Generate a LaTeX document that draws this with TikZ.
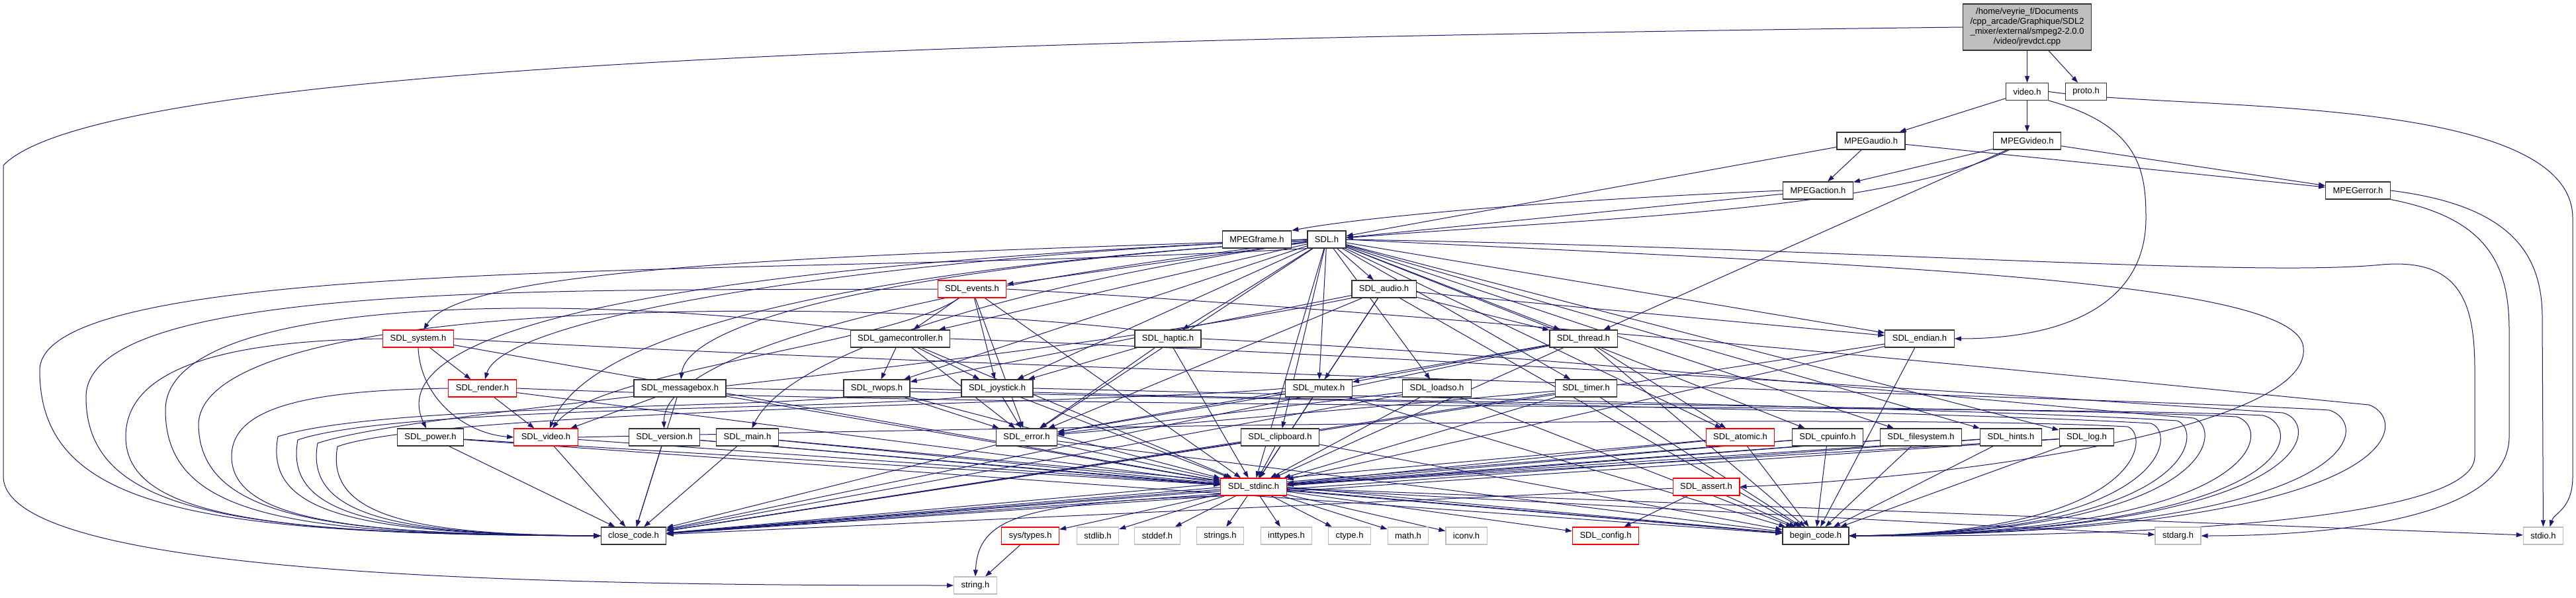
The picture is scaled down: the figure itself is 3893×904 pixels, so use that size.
\documentclass[tikz,border=0pt]{standalone}
\usepackage{fontspec}
\setmainfont{Liberation Sans}
\usepackage{xcolor}
\definecolor{cEdge}{HTML}{191970}
\definecolor{cRoot}{HTML}{BFBFBF}
\definecolor{cTrunc}{HTML}{FF0000}
\definecolor{cExt}{HTML}{BFBFBF}
\definecolor{cBorder}{HTML}{333333}
\usetikzlibrary{arrows.meta,backgrounds}
\tikzset{
  node-hdr/.style={draw=cBorder,line width=1.2pt,fill=white,inner xsep=11pt,
    inner ysep=0pt,minimum height=26pt,font=\fontsize{13}{15}\selectfont},
  node-trunc/.style={node-hdr,draw=cTrunc},
  node-ext/.style={node-hdr,draw=cExt},
  node-root/.style={node-hdr,fill=cRoot,align=center,minimum height=70pt},
  arrow/.style={-{Triangle[length=10pt,width=7pt]},line width=1pt,draw=cEdge},
}

\begin{document}
\begin{tikzpicture}[x=1pt,y=-1pt]
  \useasboundingbox (0,0) rectangle (3893,904);
  % file and smpeg headers
  \node[node-root] (root) at (3063.5,41) {/home/veyrie\_f/Documents\\/cpp\_arcade/Graphique/SDL2\\\_mixer/external/smpeg2-2.0.0\\/video/jrevdct.cpp};
  \node[node-hdr] (video) at (3063.5,138.5) {video.h};
  \node[node-hdr] (proto) at (3152.5,138.5) {proto.h};
  \node[node-hdr] (mpegaudio) at (2827.5,213) {MPEGaudio.h};
  \node[node-hdr] (mpegvideo) at (3063.5,213) {MPEGvideo.h};
  \node[node-hdr] (mpegaction) at (2747.5,288) {MPEGaction.h};
  \node[node-hdr] (mpegerror) at (3563.5,288) {MPEGerror.h};
  \node[node-hdr] (mpegframe) at (1899.5,362) {MPEGframe.h};
  % SDL headers
  \node[node-hdr] (sdl) at (2005,362) {SDL.h};
  \node[node-trunc] (events) at (1469,437) {SDL\_events.h};
  \node[node-hdr] (audio) at (2091.5,437) {SDL\_audio.h};
  \node[node-trunc] (system) at (632,512) {SDL\_system.h};
  \node[node-hdr] (gamectrl) at (1360.5,512) {SDL\_gamecontroller.h};
  \node[node-hdr] (haptic) at (1765,512) {SDL\_haptic.h};
  \node[node-hdr] (thread) at (2393,512) {SDL\_thread.h};
  \node[node-hdr] (endian) at (2901,512) {SDL\_endian.h};
  \node[node-trunc] (render) at (729,587) {SDL\_render.h};
  \node[node-hdr] (msgbox) at (1027.5,587) {SDL\_messagebox.h};
  \node[node-hdr] (rwops) at (1325,587) {SDL\_rwops.h};
  \node[node-hdr] (joystick) at (1507,587) {SDL\_joystick.h};
  \node[node-hdr] (mutex) at (1993,587) {SDL\_mutex.h};
  \node[node-hdr] (loadso) at (2171.5,587) {SDL\_loadso.h};
  \node[node-hdr] (timer) at (2397,587) {SDL\_timer.h};
  \node[node-hdr] (power) at (650.5,661) {SDL\_power.h};
  \node[node-trunc] (sdlvideo) at (825,661) {SDL\_video.h};
  \node[node-hdr] (version) at (1004,661) {SDL\_version.h};
  \node[node-hdr] (sdlmain) at (1129.5,661) {SDL\_main.h};
  \node[node-hdr] (error) at (1551.5,661) {SDL\_error.h};
  \node[node-hdr] (clipboard) at (1934.5,661) {SDL\_clipboard.h};
  \node[node-trunc] (atomic) at (2630,661) {SDL\_atomic.h};
  \node[node-hdr] (cpuinfo) at (2762,661) {SDL\_cpuinfo.h};
  \node[node-hdr] (filesystem) at (2903,661) {SDL\_filesystem.h};
  \node[node-hdr] (hints) at (3039,661) {SDL\_hints.h};
  \node[node-hdr] (log) at (3153.5,661) {SDL\_log.h};
  \node[node-trunc] (stdinc) at (1894.5,736) {SDL\_stdinc.h};
  \node[node-trunc] (assert) at (2578.5,736) {SDL\_assert.h};
  % bottom row
  \node[node-hdr] (close) at (957.5,810) {close\_code.h};
  \node[node-trunc] (systypes) at (1557,810) {sys/types.h};
  \node[node-ext] (stdlib) at (1659,810) {stdlib.h};
  \node[node-ext] (stddef) at (1749,810) {stddef.h};
  \node[node-ext] (strings) at (1844,810) {strings.h};
  \node[node-ext] (inttypes) at (1944,810) {inttypes.h};
  \node[node-ext] (ctype) at (2039.5,810) {ctype.h};
  \node[node-ext] (math) at (2128,810) {math.h};
  \node[node-ext] (iconv) at (2216,810) {iconv.h};
  \node[node-trunc] (config) at (2426.5,810) {SDL\_config.h};
  \node[node-hdr] (begin) at (2744,810) {begin\_code.h};
  \node[node-ext] (stdarg) at (3291.5,810) {stdarg.h};
  \node[node-ext] (stdio) at (3843.5,810) {stdio.h};
  \node[node-ext] (string) at (1474,885) {string.h};

  \begin{scope}[on background layer]
  \fill[white] (0,0) rectangle (3893,904);
  % jrevdct.cpp and video.h
  \draw[arrow] (root) -- (video);
  \draw[arrow] (root) -- (proto);
  \draw[arrow] (root.west) .. controls (1400,60) and (150,100) .. (5,250) -- (5,720) .. controls (5,870) and (800,885) .. (string.west);
  \draw[arrow] (video) -- (mpegaudio);
  \draw[arrow] (video) -- (mpegvideo);
  \draw[arrow] (video.south east) .. controls (3235,190) and (3243,260) .. (3243,330) .. controls (3243,460) and (3120,512) .. (endian.east);
  \draw[arrow] (video.east) .. controls (3300,168) and (3888,140) .. (3888,330) -- (3888,720) .. controls (3888,770) and (3860,775) .. ([xshift=10pt]stdio.north);
  % smpeg headers
  \draw[arrow] (mpegaudio) -- (mpegaction);
  \draw[arrow] (mpegaudio) -- (mpegerror);
  \draw[arrow] (mpegaudio) -- (sdl);
  \draw[arrow] (mpegvideo) -- (mpegaction);
  \draw[arrow] (mpegvideo) -- (mpegerror);
  \draw[arrow] (mpegvideo) .. controls (2850,320) and (2400,330) .. (sdl);
  \draw[arrow] (mpegvideo) -- (thread);
  \draw[arrow] (mpegaction.west) .. controls (2300,305) and (2050,330) .. (mpegframe.north east);
  \draw[arrow] (mpegaction) -- (sdl);
  \draw[arrow] (mpegerror.east) .. controls (3790,310) and (3842,380) .. (3842,480) -- (stdio);
  \draw[arrow] (mpegerror.south east) .. controls (3760,330) and (3792,400) .. (3792,500) -- (3792,660) .. controls (3792,790) and (3500,810) .. (stdarg.east);
  % SDL.h
  \draw[arrow] (sdl) -- (events);
  \draw[arrow] (sdl) -- (audio);
  \draw[arrow] (sdl.west) .. controls (1300,385) and (700,400) .. (system);
  \draw[arrow] (sdl) -- (gamectrl);
  \draw[arrow] (sdl) -- (haptic);
  \draw[arrow] (sdl) -- (thread);
  \draw[arrow] (sdl) -- (endian);
  \draw[arrow] (sdl.west) .. controls (1300,390) and (760,480) .. (render);
  \draw[arrow] (sdl) .. controls (1400,400) and (1040,480) .. (msgbox);
  \draw[arrow] (sdl) -- (rwops);
  \draw[arrow] (sdl) -- (joystick);
  \draw[arrow] (sdl) -- (mutex);
  \draw[arrow] (sdl) -- (loadso);
  \draw[arrow] (sdl) -- (timer);
  \draw[arrow] (sdl.west) .. controls (1200,395) and (560,470) .. (power);
  \draw[arrow] (sdl) .. controls (1400,400) and (900,480) .. (sdlvideo);
  \draw[arrow] (sdl) .. controls (1500,420) and (1000,520) .. (version);
  \draw[arrow] (sdl) .. controls (1600,420) and (1200,520) .. (sdlmain);
  \draw[arrow] (sdl) -- (error);
  \draw[arrow] (sdl) -- (clipboard);
  \draw[arrow] (sdl) -- (atomic);
  \draw[arrow] (sdl) -- (cpuinfo);
  \draw[arrow] (sdl) -- (filesystem);
  \draw[arrow] (sdl) -- (hints);
  \draw[arrow] (sdl) -- (log);
  \draw[arrow] (sdl) -- (stdinc);
  \draw[arrow] (sdl.east) .. controls (2800,400) and (3450,420) .. (3480,520) .. controls (3510,640) and (3000,720) .. (assert.east);
  \draw[arrow] (sdl.east) .. controls (2800,375) and (3400,420) .. (3600,400) .. controls (3720,390) and (3740,460) .. (3740,560) -- (3740,690) .. controls (3740,800) and (3100,812) .. (begin.east);
  \draw[arrow] (sdl.south west) .. controls (1200,420) and (60,380) .. (60,560) .. controls (60,770) and (300,808) .. (close.west);
  % SDL_events.h
  \draw[arrow] (events) -- (gamectrl);
  \draw[arrow] (events) -- (joystick);
  \draw[arrow] (events) -- (error);
  \draw[arrow] (events) .. controls (1350,520) and (900,560) .. (sdlvideo);
  \draw[arrow] (events) -- (stdinc);
  \draw[arrow] (events.west) .. controls (900,440) and (130,420) .. (130,600) .. controls (130,775) and (350,808) .. (close.west);
  \draw[arrow] (events.east) .. controls (2300,480) and (3300,585) .. (3580,612) .. controls (3645,635) and (3640,805) .. (begin.east);
  % SDL_system.h, SDL_render.h, SDL_messagebox.h
  \draw[arrow] (system) -- (render);
  \draw[arrow] (system.south) .. controls (635,600) and (700,655) .. (sdlvideo.west);
  \draw[arrow] (system) -- (stdinc);
  \draw[arrow] (system.west) .. controls (330,515) and (190,560) .. (190,660) .. controls (190,780) and (400,808) .. (close.west);
  \draw[arrow] (system.east) .. controls (1500,560) and (3200,600) .. (3520,620) .. controls (3585,640) and (3580,805) .. (begin.east);
  \draw[arrow] (render) -- (sdlvideo);
  \draw[arrow] (render) -- (stdinc);
  \draw[arrow] (render.west) .. controls (450,590) and (350,620) .. (350,690) .. controls (350,790) and (550,808) .. (close.west);
  \draw[arrow] (render.east) .. controls (1600,620) and (3100,612) .. (3420,628) .. controls (3485,645) and (3480,805) .. (begin.east);
  \draw[arrow] (msgbox) -- (sdlvideo);
  \draw[arrow] (msgbox) -- (stdinc);
  \draw[arrow] (msgbox) -- (close);
  \draw[arrow] (msgbox.east) .. controls (1800,600) and (2950,622) .. (3250,640) .. controls (3290,650) and (3285,805) .. (begin.east);
  % SDL_gamecontroller.h, SDL_haptic.h
  \draw[arrow] (gamectrl) -- (rwops);
  \draw[arrow] (gamectrl) -- (joystick);
  \draw[arrow] (gamectrl) -- (error);
  \draw[arrow] (gamectrl) -- (stdinc);
  \draw[arrow] (gamectrl.north west) .. controls (900,445) and (250,440) .. (250,620) .. controls (250,785) and (450,808) .. (close.west);
  \draw[arrow] (gamectrl.east) .. controls (2200,540) and (3150,605) .. (3450,624) .. controls (3510,640) and (3505,805) .. (begin.east);
  \draw[arrow] (haptic) -- (joystick);
  \draw[arrow] (haptic) -- (error);
  \draw[arrow] (haptic) -- (stdinc);
  \draw[arrow] (haptic.north west) .. controls (1300,450) and (310,445) .. (300,640) .. controls (300,785) and (500,808) .. (close.west);
  \draw[arrow] (haptic.east) .. controls (2400,540) and (3050,612) .. (3315,632) .. controls (3360,645) and (3355,805) .. (begin.east);
  % SDL_audio.h, SDL_thread.h
  \draw[arrow] (audio) -- (rwops);
  \draw[arrow] (audio) -- (error);
  \draw[arrow] (audio) -- (mutex);
  \draw[arrow] (audio) -- (thread);
  \draw[arrow] (audio) -- (endian);
  \draw[arrow] (audio) -- (stdinc);
  \draw[arrow] (audio) -- (begin);
  \draw[arrow] (audio.south west) .. controls (1500,560) and (640,616) .. (480,670) .. controls (460,780) and (600,808) .. (close.west);
  \draw[arrow] (thread) -- (mutex);
  \draw[arrow] (thread) -- (atomic);
  \draw[arrow] (thread) -- (error);
  \draw[arrow] (thread) -- (stdinc);
  \draw[arrow] (thread) -- (begin);
  \draw[arrow] (thread) -- (close);
  % SDL_rwops.h, SDL_joystick.h, SDL_mutex.h
  \draw[arrow] (rwops) -- (error);
  \draw[arrow] (rwops) -- (stdinc);
  \draw[arrow] (rwops.south west) .. controls (1100,618) and (570,612) .. (420,660) .. controls (400,770) and (520,808) .. (close.west);
  \draw[arrow] (rwops.east) .. controls (2000,610) and (3080,615) .. (3380,630) .. controls (3435,645) and (3430,805) .. (begin.east);
  \draw[arrow] (joystick) -- (error);
  \draw[arrow] (joystick) -- (stdinc);
  \draw[arrow] (joystick.south west) .. controls (1250,620) and (600,614) .. (450,665) .. controls (430,775) and (560,808) .. (close.west);
  \draw[arrow] (joystick.east) .. controls (2100,600) and (3000,618) .. (3290,636) .. controls (3330,648) and (3325,805) .. (begin.east);
  \draw[arrow] (mutex) -- (error);
  \draw[arrow] (mutex) -- (stdinc);
  \draw[arrow] (mutex) -- (begin);
  \draw[arrow] (mutex.west) .. controls (1700,610) and (670,618) .. (510,675) .. controls (490,785) and (640,808) .. (close.west);
  % SDL_loadso.h, SDL_timer.h, SDL_endian.h
  \draw[arrow] (loadso) -- (error);
  \draw[arrow] (loadso) -- (stdinc);
  \draw[arrow] (loadso) -- (begin);
  \draw[arrow] (loadso) -- (close);
  \draw[arrow] (timer) -- (error);
  \draw[arrow] (timer) -- (stdinc);
  \draw[arrow] (timer) -- (begin);
  \draw[arrow] (timer) -- (close);
  \draw[arrow] (endian) -- (stdinc);
  \draw[arrow] (endian) -- (begin);
  \draw[arrow] (endian) -- (close);
  % row of small SDL headers
  \draw[arrow] (power) -- (stdinc);
  \draw[arrow] (power) -- (begin);
  \draw[arrow] (power) -- (close);
  \draw[arrow] (sdlvideo) -- (stdinc);
  \draw[arrow] (sdlvideo) -- (close);
  \draw[arrow] (sdlvideo.east) .. controls (1800,640) and (2900,628) .. (3215,645) .. controls (3250,655) and (3245,805) .. (begin.east);
  \draw[arrow] (version) -- (stdinc);
  \draw[arrow] (version) -- (begin);
  \draw[arrow] (version) -- (close);
  \draw[arrow] (sdlmain) -- (stdinc);
  \draw[arrow] (sdlmain) -- (begin);
  \draw[arrow] (sdlmain) -- (close);
  \draw[arrow] (error) -- (stdinc);
  \draw[arrow] (error) -- (begin);
  \draw[arrow] (error) -- (close);
  \draw[arrow] (clipboard) -- (stdinc);
  \draw[arrow] (clipboard) -- (begin);
  \draw[arrow] (clipboard) -- (close);
  \draw[arrow] (atomic) -- (stdinc);
  \draw[arrow] (atomic) -- (begin);
  \draw[arrow] (atomic) -- (close);
  \draw[arrow] (cpuinfo) -- (stdinc);
  \draw[arrow] (cpuinfo) -- (begin);
  \draw[arrow] (cpuinfo) -- (close);
  \draw[arrow] (filesystem) -- (stdinc);
  \draw[arrow] (filesystem) -- (begin);
  \draw[arrow] (filesystem) -- (close);
  \draw[arrow] (hints) -- (stdinc);
  \draw[arrow] (hints) -- (begin);
  \draw[arrow] (hints) -- (close);
  \draw[arrow] (log) -- (stdinc);
  \draw[arrow] (log) -- (begin);
  \draw[arrow] (log) -- (close);
  \draw[arrow] (assert) -- (config);
  \draw[arrow] (assert) -- (begin);
  \draw[arrow] (assert) -- (close);
  % SDL_stdinc.h
  \draw[arrow] (stdinc) -- (config);
  \draw[arrow] (stdinc) -- (systypes);
  \draw[arrow] (stdinc) -- (stdlib);
  \draw[arrow] (stdinc) -- (stddef);
  \draw[arrow] (stdinc) -- (strings);
  \draw[arrow] (stdinc) -- (inttypes);
  \draw[arrow] (stdinc) -- (ctype);
  \draw[arrow] (stdinc) -- (math);
  \draw[arrow] (stdinc) -- (iconv);
  \draw[arrow] (stdinc) -- (stdarg);
  \draw[arrow] (stdinc) -- (stdio);
  \draw[arrow] (stdinc) -- (begin);
  \draw[arrow] (stdinc) -- (close);
  \draw[arrow] (stdinc.south west) .. controls (1550,760) and (1478,780) .. (string.north);
  \draw[arrow] (systypes) -- (string);
  \end{scope}
\end{tikzpicture}
\end{document}
